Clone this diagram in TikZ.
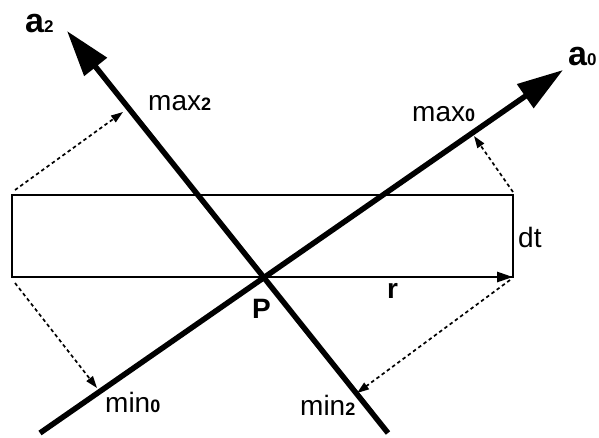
\documentclass[tikz,border=0pt]{standalone}
\usepackage{fontspec}
\setmainfont{Liberation Sans}
\usetikzlibrary{arrows.meta}
\definecolor{figink}{HTML}{000000}

\newcommand{\idx}[1]{{\bfseries\fontsize{18}{18}\selectfont #1}}
\newcommand{\axname}[2]{{\bfseries\fontsize{34}{34}\selectfont #1\fontsize{17}{17}\selectfont #2}}

\begin{document}
\begin{tikzpicture}[x=1pt, y=-1pt,
                    every node/.style={figink, inner sep=0pt, anchor=base west,
                                       font=\fontsize{28}{28}\selectfont},
                    axis/.style={figink, line width=5.5pt,
                                 -{Triangle[length=46pt, width=28pt]}},
                    proj/.style={figink, line width=1.7pt, dash pattern=on 3.5pt off 3pt,
                                 -{Triangle[length=12pt, width=8pt]}},
                    ray/.style={figink, line width=2.8pt,
                                -{Triangle[length=16pt, width=10pt]}}]

  \useasboundingbox (0,0) rectangle (599,437);

  %% 矩形的四個角
  \coordinate (tl) at (12,195);
  \coordinate (tr) at (513,195);
  \coordinate (bl) at (12,277);
  \coordinate (br) at (513,277);
  \draw[figink, line width=1.2pt] (tl) rectangle (br);

  %% 兩軸交於 P
  \coordinate (P) at (262,277);
  \coordinate (a0s) at (40,433);
  \coordinate (a0e) at (563,70);
  \coordinate (a2s) at (388,433);
  \coordinate (a2e) at (67,31);

  %% 從 P 到右下角的 r
  \draw[ray] (P) -- (br);

  \draw[axis] (a0s) -- (a0e);
  \draw[axis] (a2s) -- (a2e);

  %% 角點投影到兩軸上
  \coordinate (max2) at (123,112);
  \coordinate (max0) at (474,136);
  \coordinate (min0) at (97,388);
  \coordinate (min2) at (357,393);
  \draw[proj] ([shift={(3,-5)}]tl) -- (max2);
  \draw[proj] ([shift={(0,-3)}]tr) -- (max0);
  \draw[proj] ([shift={(3,6)}]bl) -- (min0);
  \draw[proj] ([shift={(-3,3)}]br) -- (min2);

  %% 標籤
  \node (a2lbl) at (25,32) {\axname{a}{2}};
  \node (a0lbl) at (568,65) {\axname{a}{0}};
  \node (max2lbl) at (148,110) {max\idx{2}};
  \node (max0lbl) at (412,121) {max\idx{0}};
  \node (min0lbl) at (105,412) {min\idx{0}};
  \node (min2lbl) at (300,415) {min\idx{2}};
  \node (dtlbl) at (518,247) {dt};
  \node (rlbl) at (387,298) {\bfseries r};
  \node (Plbl) at (252,318) {\bfseries P};

\end{tikzpicture}
\end{document}
